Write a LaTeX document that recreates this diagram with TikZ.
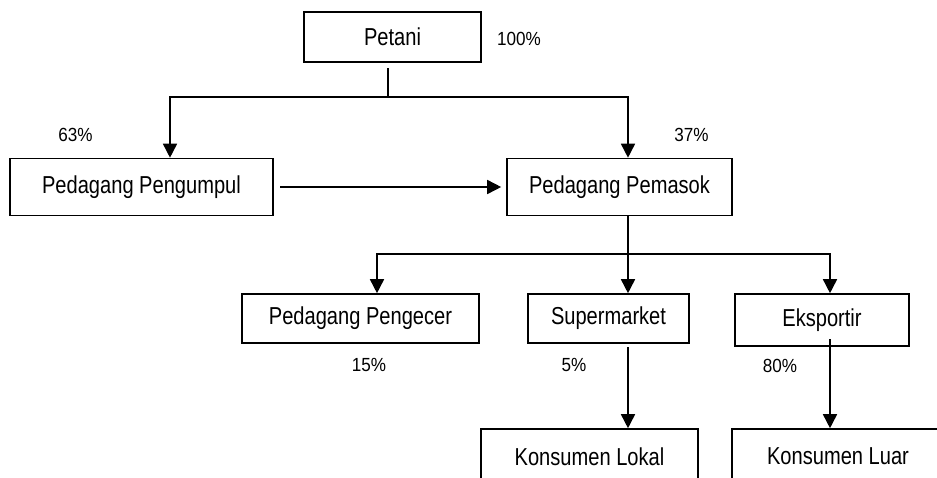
\documentclass[tikz,border=0pt]{standalone}
\usepackage{fontspec}
\setmainfont{Liberation Sans}
\newfontfamily\boxfont[FakeStretch=0.82]{Liberation Sans}
\newfontfamily\pctfont[FakeStretch=0.9]{Liberation Sans}
\usetikzlibrary{arrows.meta}
\begin{document}
\begin{tikzpicture}[x=1pt,y=-1pt,
  box/.style={draw,line width=1.6pt,inner sep=0pt,anchor=center,
    font=\boxfont\fontsize{24.5}{28}\selectfont},
  pct/.style={inner sep=0pt,anchor=center,font=\pctfont\fontsize{19}{22}\selectfont},
  conn/.style={line width=1.6pt,line cap=rect},
  arr/.style={conn,-{Triangle[width=14pt,length=14pt]}}]
\useasboundingbox (0,0) rectangle (937,477);
\begin{scope}
\clip (0,0) rectangle (937,477);
\node[box,minimum width=177pt,minimum height=50pt] (petani) at (392.5,37) {Petani};
\node[box,minimum width=263pt,minimum height=57pt] (pengumpul) at (141.5,187) {Pedagang Pengumpul};
\node[box,minimum width=225pt,minimum height=57pt] (pemasok) at (619.5,187) {Pedagang Pemasok};
\node[box,minimum width=237pt,minimum height=49pt] (pengecer) at (360.5,318.5) {Pedagang Pengecer};
\node[box,minimum width=161pt,minimum height=49pt] (supermarket) at (608.5,318.5) {Supermarket};
\node[box,minimum width=174pt,minimum height=52pt] (eksportir) at (822,320) {Eksportir};
\node[box,minimum width=217pt,minimum height=55pt] (lokal) at (589.5,456.5) {Konsumen Lokal};
\node[box,minimum width=212pt,minimum height=55pt] (luar) at (838,456.5) {Konsumen Luar};
\end{scope}
\node[pct] (p100) at (519,39) {100\%};
\node[pct] (p63) at (75.5,135) {63\%};
\node[pct] (p37) at (691.5,135) {37\%};
\node[pct] (p15) at (369,365) {15\%};
\node[pct] (p5) at (574,365) {5\%};
\node[pct] (p80) at (780,365.5) {80\%};
\coordinate (jL) at (170,97);
\coordinate (jM) at (388,97);
\coordinate (jR) at (628,97);
\draw[conn] ([yshift=-6pt]petani.south -| jM) -- (jM);
\draw[arr] (jM) -- (jL) -- (jL |- pengumpul.north);
\draw[arr] (jM) -- (jR) -- (jR |- pemasok.north);
\draw[arr] ([xshift=7pt]pengumpul.east) -- ([xshift=-5pt]pemasok.west);
\coordinate (kL) at (377,254);
\coordinate (kM) at (628,254);
\coordinate (kR) at (830,254);
\draw[arr] (pemasok.south -| kM) -- (supermarket.north -| kM);
\draw[arr] (kM) -- (kL) -- (kL |- pengecer.north);
\draw[arr] (kM) -- (kR) -- (kR |- eksportir.north);
\draw[arr] ([yshift=-4pt]supermarket.south -| kM) -- (lokal.north -| kM);
\draw[arr] ([yshift=7pt]eksportir.south -| kR) -- (luar.north -| kR);
\end{tikzpicture}
\end{document}
